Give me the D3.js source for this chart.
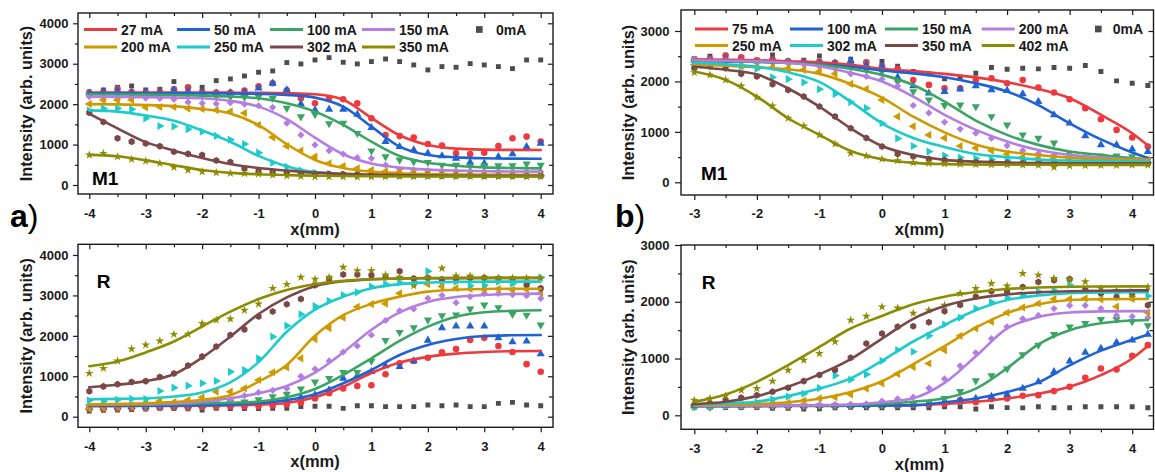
<!DOCTYPE html>
<html><head><meta charset="utf-8">
<script src="https://cdn.jsdelivr.net/npm/d3@7"></script>
<style>
body{margin:0;background:#fff;}
svg{display:block;font-family:"Liberation Sans",Arial,Helvetica,sans-serif;}
</style>
</head><body>
<svg id="c" width="1155" height="472"></svg>
<script>
// ---------------- DATA ----------------
const xA = [-4,-3.75,-3.5,-3.25,-3,-2.75,-2.5,-2.25,-2,-1.75,-1.5,-1.25,-1,-0.75,-0.5,-0.25,0,0.25,0.5,0.75,1,1.25,1.5,1.75,2,2.25,2.5,2.75,3,3.25,3.5,3.75,4];
const xFitA = [-4,-3.5,-3,-2.5,-2,-1.5,-1,-0.5,0,0.5,1,1.5,2,2.5,3,3.5,4];
const xB = [-3,-2.75,-2.5,-2.25,-2,-1.75,-1.5,-1.25,-1,-0.75,-0.5,-0.25,0,0.25,0.5,0.75,1,1.25,1.5,1.75,2,2.25,2.5,2.75,3,3.25,3.5,3.75,4,4.25];
const xFitB = [-3,-2.5,-2,-1.5,-1,-0.5,0,0.5,1,1.5,2,2.5,3,3.5,4,4.25];

const currentsA = ["27 mA","50 mA","100 mA","150 mA","200 mA","250 mA","302 mA","350 mA"];
const currentsB = ["75 mA","100 mA","150 mA","200 mA","250 mA","302 mA","350 mA","402 mA"];
const refLabel = "0mA";

const xTicksA = [-4,-3,-2,-1,0,1,2,3,4];
const xTicksB = [-3,-2,-1,0,1,2,3,4];
const yTicksA = [0,1000,2000,3000,4000];
const yTicksB = [0,1000,2000,3000];

// panel a, M1 - measured points
const aM1_0   = [2300,2351,2417,2450,2351,2368,2558,2417,2417,2582,2624,2698,2789,2822,3028,2995,3094,3151,3036,2995,3053,3118,3053,2970,2847,2929,2912,3003,2970,2929,2879,3094,3094];
const aM1_27  = [2290,2300,2380,2300,2290,2300,2370,2417,2300,2290,2290,2335,2440,2516,2345,2145,2021,2150,2120,2021,1650,1238,1213,1172,1015,974,784,767,800,965,1155,1197,1073];
const aM1_50  = [2270,2310,2340,2290,2300,2280,2350,2330,2290,2270,2280,2300,2393,2516,2351,2005,1856,1873,1873,1749,1419,1073,949,866,784,718,660,561,536,701,767,949,1031];
const aM1_100 = [2230,2250,2240,2230,2245,2220,2230,2210,2200,2190,2180,2170,2180,2145,1900,1690,1745,1520,1534,1280,845,701,619,577,561,495,495,470,478,478,478,520,495];
const aM1_150 = [2186,2110,2120,2150,2150,2140,2120,2050,2021,2010,2037,2000,1960,1922,1530,1238,990,850,767,677,660,495,390,371,355,350,345,340,335,335,330,330,330];
const aM1_200 = [2005,2104,2103,2103,1922,1930,1930,1890,1880,1850,1820,1780,1485,1180,960,850,701,536,470,412,371,340,320,300,290,280,275,270,265,260,255,255,250];
const aM1_250 = [1840,1890,1897,1873,1650,1460,1450,1380,1320,1213,1120,1015,800,550,450,360,300,270,260,245,240,235,232,230,228,226,225,225,225,225,225,225,225];
const aM1_302 = [1790,1560,1155,1073,1025,960,825,770,742,605,570,400,340,320,300,290,280,270,265,260,255,250,245,240,240,235,235,235,230,230,230,230,230];
const aM1_350 = [743,784,701,635,594,536,437,371,330,305,289,285,272,248,231,215,205,205,205,200,205,210,210,210,210,210,210,210,210,210,210,210,210];
// panel a, M1 - fitted curves (read at x = xFitA)
const aM1fit_27  = [2290,2290,2290,2290,2290,2285,2280,2270,2245,2110,1660,1230,990,900,875,868,866];
const aM1fit_50  = [2270,2270,2270,2270,2268,2265,2255,2230,2161,1939,1444,949,742,684,660,653,651];
const aM1fit_100 = [2244,2240,2235,2225,2210,2190,2145,2021,1815,1485,1072,717,552,478,437,420,412];
const aM1fit_150 = [2186,2180,2175,2165,2145,2080,1939,1630,1170,760,530,430,380,355,340,333,330];
const aM1fit_200 = [2000,1995,1980,1950,1880,1770,1480,1010,620,420,330,290,270,260,252,250,248];
const aM1fit_250 = [1845,1815,1720,1590,1350,1070,720,460,320,265,240,228,222,220,220,220,220];
const aM1fit_302 = [1760,1400,1060,850,670,520,420,355,305,275,258,245,235,230,225,225,225];
const aM1fit_350 = [745,710,610,490,370,300,265,245,232,222,215,210,210,210,210,210,210];

// panel a, R - measured points
const aR_0   = [140,160,165,175,190,206,200,195,165,206,200,200,200,206,206,248,260,260,206,272,272,248,248,248,289,270,289,250,250,330,355,289,272];
const aR_27  = [200,190,200,210,215,220,225,230,240,245,250,255,260,280,300,350,450,580,700,760,780,1048,1320,1378,1460,1592,1675,1900,1950,1750,1600,1300,1110];
const aR_50  = [220,230,240,250,255,260,265,270,280,290,300,320,340,360,400,480,540,660,949,1015,1114,1254,1238,1378,1890,2200,2240,2240,2240,1950,1850,1870,1555];
const aR_100 = [250,240,250,255,260,270,280,290,300,320,350,370,420,500,560,690,860,950,1097,1097,1378,1890,2087,2203,2393,2500,2520,2665,2764,2698,2533,2516,2269];
const aR_150 = [260,270,280,290,300,300,310,330,350,380,420,520,600,650,700,1000,1180,1380,1600,1749,2021,2380,2620,2665,2930,3000,2820,2970,3050,3050,3020,2995,2925];
const aR_200 = [200,230,250,260,330,390,360,412,479,619,620,701,908,1100,1220,1445,1920,2190,2450,2720,2785,2795,3054,3300,3277,3218,3180,3160,3150,3160,3140,3150,3060];
const aR_250 = [400,380,420,440,440,635,718,767,825,883,1110,1155,1444,1980,2252,2533,2739,2863,3011,3077,3217,3280,3320,3340,3600,3340,3340,3242,3250,3340,3290,3300,3440];
const aR_302 = [630,750,800,860,880,980,1070,1264,1486,1734,2022,2160,2480,2600,2782,2912,3250,3400,3520,3520,3500,3450,3600,3420,3440,3400,3420,3430,3440,3420,3400,3259,3176];
const aR_350 = [1073,1196,1378,1675,1774,1873,2038,2040,2310,2393,2417,2632,2789,3176,3275,3449,3400,3449,3696,3614,3614,3506,3450,3242,3430,3671,3482,3482,3440,3430,3430,3430,3430];
// panel a, R - fitted curves
const aRfit_27  = [260,262,265,268,272,280,300,340,480,740,1080,1340,1480,1560,1600,1620,1625];
const aRfit_50  = [270,272,275,280,290,305,340,410,554,826,1156,1527,1774,1923,1997,2015,2022];
const aRfit_100 = [290,295,300,310,325,345,375,480,686,1032,1445,1874,2228,2475,2583,2620,2634];
const aRfit_150 = [300,305,310,325,373,455,579,760,1090,1590,2150,2580,2840,2960,3010,3035,3045];
const aRfit_200 = [306,315,330,360,420,530,866,1280,2000,2510,2790,2970,3095,3140,3160,3165,3165];
const aRfit_250 = [430,440,455,500,600,850,1350,2100,2650,2970,3180,3280,3320,3335,3340,3342,3342];
const aRfit_302 = [730,790,880,1050,1460,1980,2540,2950,3230,3350,3400,3420,3425,3428,3430,3430,3430];
const aRfit_350 = [1250,1365,1590,1860,2230,2600,2910,3136,3277,3360,3400,3420,3430,3432,3435,3435,3435];

// panel b, M1 - measured points
const bM1_0   = [2450,2500,2520,2460,2420,2526,2400,2420,2507,2374,2440,2380,2394,2300,2200,2150,2050,2083,2163,2275,2242,2262,2250,2275,2262,2315,2196,2011,1965,1918];
const bM1_75  = [2440,2450,2513,2480,2420,2440,2400,2390,2394,2370,2350,2381,2300,2250,2030,1931,1865,1865,2030,2064,1965,2030,1878,1779,1647,1468,1249,1039,887,709];
const bM1_100 = [2420,2430,2450,2420,2400,2410,2390,2380,2370,2360,2410,2328,2295,2083,1911,1766,1799,1845,1911,1832,1819,1753,1601,1337,1171,920,742,742,656,609];
const bM1_150 = [2400,2420,2410,2400,2390,2380,2370,2350,2350,2290,2280,2230,2196,1990,1800,1634,1525,1534,1501,1303,1138,940,874,780,575,500,520,523,510,457];
const bM1_200 = [2440,2420,2420,2410,2400,2390,2380,2340,2300,2250,2150,2100,2044,1911,1525,1376,1195,1055,973,874,728,629,570,543,510,490,470,460,455,450];
const bM1_250 = [2330,2320,2350,2300,2290,2280,2260,2230,2200,2150,1950,1850,1634,1303,1110,940,880,720,680,629,563,500,480,470,460,455,450,445,440,440];
const bM1_302 = [2380,2400,2380,2300,2250,2083,2044,1980,1845,1750,1590,1469,1171,870,720,610,530,490,470,450,440,430,420,415,410,405,405,400,400,400];
const bM1_350 = [2262,2300,2262,2150,2096,1945,1832,1700,1502,1303,1072,880,709,560,510,460,440,410,395,390,385,380,375,375,372,370,370,370,370,370];
const bM1_402 = [2176,2130,2031,1911,1687,1515,1270,1118,940,762,576,524,460,430,390,380,370,360,355,350,350,345,340,300,330,335,340,340,345,345];
// panel b, M1 - fitted curves (read at x = xFitB)
const bM1fit_75  = [2440,2430,2420,2400,2380,2330,2250,2205,2150,2080,1984,1850,1667,1337,973,730];
const bM1fit_100 = [2400,2395,2390,2370,2340,2290,2216,2160,2083,1964,1800,1530,1170,850,590,480];
const bM1fit_150 = [2410,2400,2390,2370,2330,2250,2130,1930,1601,1224,940,742,609,543,480,460];
const bM1fit_200 = [2420,2410,2400,2370,2300,2170,1998,1700,1337,1039,808,642,543,490,457,450];
const bM1fit_250 = [2330,2310,2280,2240,2150,1950,1680,1300,990,750,610,540,490,460,445,440];
const bM1fit_302 = [2370,2340,2290,2180,1990,1600,1170,880,700,560,500,450,430,420,412,410];
const bM1fit_350 = [2290,2230,2140,1860,1500,1070,720,540,445,410,390,382,378,376,375,375];
const bM1fit_402 = [2196,2031,1700,1270,940,620,457,385,360,352,348,347,346,345,345,345];

// panel b, R - measured points
const bR_0   = [135,135,135,135,135,125,125,110,115,130,140,130,130,132,132,132,150,150,110,150,135,130,150,132,132,150,150,150,150,132];
const bR_75  = [160,155,160,160,165,160,160,165,165,170,170,175,175,180,185,190,200,267,230,285,297,344,355,426,502,661,825,807,1048,1236];
const bR_100 = [165,160,170,165,170,165,170,168,170,170,172,172,175,180,190,200,250,260,297,330,367,473,590,766,954,1107,1177,1283,1324,1424];
const bR_150 = [150,140,160,160,165,165,165,165,165,165,170,175,180,190,200,230,300,420,610,700,820,1071,1236,1424,1559,1620,1690,1690,1650,1580];
const bR_200 = [165,165,168,170,170,172,175,178,180,185,190,200,250,290,320,480,640,870,1100,1350,1560,1700,1760,1880,1935,1935,1880,1760,1740,1720];
const bR_250 = [170,165,180,180,190,200,220,260,297,320,367,470,560,730,850,913,1148,1400,1530,1650,1810,1900,1970,2050,2050,2060,2040,1915,2050,1810];
const bR_302 = [150,160,170,180,230,280,330,380,480,700,630,720,960,1150,1120,1400,1600,1720,1880,1990,2070,2120,2180,2200,2300,2200,2150,2150,2170,2100];
const bR_350 = [180,209,268,310,355,414,485,602,708,796,1013,1265,1442,1560,1570,1640,1835,1945,2087,2187,2180,2260,2350,2380,2400,2206,2150,2080,2150,1940];
const bR_402 = [267,297,344,443,473,602,796,972,1089,1295,1676,1745,1911,1893,1800,1852,1940,2147,2234,2322,2280,2498,2470,2410,2395,2352,2235,2200,2080,2260];
// panel b, R - fitted curves
const bRfit_75  = [160,160,162,163,165,168,172,180,200,240,297,380,502,708,1001,1220];
const bRfit_100 = [165,166,167,168,169,170,172,178,230,297,410,580,880,1140,1330,1420];
const bRfit_150 = [160,162,165,167,170,180,200,240,300,470,830,1250,1500,1620,1670,1680];
const bRfit_200 = [170,171,172,175,180,190,230,300,570,1040,1530,1730,1810,1830,1835,1835];
const bRfit_250 = [180,190,200,230,290,410,600,900,1220,1545,1800,1955,2030,2045,2050,2050];
const bRfit_302 = [190,210,240,340,470,650,960,1300,1590,1850,2030,2110,2150,2165,2170,2170];
const bRfit_350 = [197,238,338,502,720,989,1350,1700,1925,2058,2130,2165,2185,2195,2200,2200];
const bRfit_402 = [238,367,590,884,1207,1529,1750,1955,2090,2170,2225,2250,2265,2270,2272,2272];

// ---------------- STYLE ----------------
const seriesColors = ["#ee3a3e","#1f62d4","#3aa563","#b47ee0","#cf9a00","#1ecbcb","#7a4848","#8c8c00"];
const refColor = "#4d4d4d";
const ink = "#1a1a1a";

const hexagon = {draw(ctx, size){ const r = Math.sqrt(2*size/(3*Math.sqrt(3)));
  for(let i=0;i<6;i++){ const a = Math.PI/3*i + Math.PI/6; const px=r*Math.cos(a), py=r*Math.sin(a); if(i===0) ctx.moveTo(px,py); else ctx.lineTo(px,py);} ctx.closePath(); }};
const markerDefs = [
  {type:d3.symbolCircle, size:34, rot:0},
  {type:d3.symbolTriangle, size:29, rot:0},
  {type:d3.symbolTriangle, size:29, rot:180},
  {type:d3.symbolSquare, size:26, rot:45},
  {type:d3.symbolTriangle, size:29, rot:-90},
  {type:d3.symbolTriangle, size:29, rot:90},
  {type:hexagon, size:32, rot:0},
  {type:d3.symbolStar, size:24, rot:0}
];

const svg = d3.select("#c");

const panels = [
  {frame:[78,13,553,194], xd:[-4,4], xr:[89.3,540.7], yd:[0,4000], yr:[185,23.3], xt:xTicksA, yt:yTicksA,
   xs:xA, xf:xFitA, ref:aM1_0, pts:[aM1_27,aM1_50,aM1_100,aM1_150,aM1_200,aM1_250,aM1_302,aM1_350],
   fits:[aM1fit_27,aM1fit_50,aM1fit_100,aM1fit_150,aM1fit_200,aM1fit_250,aM1fit_302,aM1fit_350],
   tag:"M1", tagX:92, tagY:184.5, ytX:26, xlX:315, xlY:229.5, ylTick:5, ylPad:4.5, xPad:9.4,
   legend:{labels:currentsA, lx:[84,177,270,362], ry:[29.5,47], sqX:479.3, sqT:496}},
  {frame:[78,244.3,553,427.3], xd:[-4,4], xr:[89.3,540.7], yd:[0,4000], yr:[416.7,255], xt:xTicksA, yt:yTicksA,
   xs:xA, xf:xFitA, ref:aR_0, pts:[aR_27,aR_50,aR_100,aR_150,aR_200,aR_250,aR_302,aR_350],
   fits:[aRfit_27,aRfit_50,aRfit_100,aRfit_150,aRfit_200,aRfit_250,aRfit_302,aRfit_350],
   tag:"R", tagX:96.7, tagY:288.3, ytX:26, xlX:315, xlY:461.5, ylTick:5, ylPad:4.5, xPad:9.8},
  {frame:[681,10,1153.5,195], xd:[-3,4], xr:[694.3,1132.2], yd:[0,3000], yr:[182.3,31], xt:xTicksB, yt:yTicksB,
   xs:xB, xf:xFitB, ref:bM1_0, pts:[bM1_75,bM1_100,bM1_150,bM1_200,bM1_250,bM1_302,bM1_350,bM1_402],
   fits:[bM1fit_75,bM1fit_100,bM1fit_150,bM1fit_200,bM1fit_250,bM1fit_302,bM1fit_350,bM1fit_402],
   tag:"M1", tagX:701, tagY:179.5, ytX:628.5, xlX:919.5, xlY:229.5, ylTick:6, ylPad:5.5, xPad:8.6,
   legend:{labels:currentsB, lx:[695,790,885,981.7], ry:[29,45.5], sqX:1098.3, sqT:1112.7}},
  {frame:[681,245,1153.5,429.3], xd:[-3,4], xr:[694.3,1132.2], yd:[0,3000], yr:[415.3,245], xt:xTicksB, yt:yTicksB,
   xs:xB, xf:xFitB, ref:bR_0, pts:[bR_75,bR_100,bR_150,bR_200,bR_250,bR_302,bR_350,bR_402],
   fits:[bRfit_75,bRfit_100,bRfit_150,bRfit_200,bRfit_250,bRfit_302,bRfit_350,bRfit_402],
   tag:"R", tagX:701.7, tagY:289, ytX:628.5, xlX:919.5, xlY:464, ylTick:6, ylPad:5.5, xPad:9.2}
];

function styleAxis(g, fs){
  g.select(".domain").remove();
  g.selectAll(".tick line").attr("stroke", ink).attr("stroke-width",1.2);
  g.selectAll(".tick text").attr("fill", ink).attr("font-size", fs).attr("font-weight","bold")
    .attr("font-family",'"Liberation Sans",Arial,sans-serif');
}

panels.forEach((p,pi)=>{
  const [x0,y0,x1,y1] = p.frame;
  const x = d3.scaleLinear().domain(p.xd).range(p.xr);
  const y = d3.scaleLinear().domain(p.yd).range(p.yr);
  const g = svg.append("g");
  const clipId = "clip"+pi;
  g.append("clipPath").attr("id",clipId).append("rect").attr("x",x0).attr("y",y0).attr("width",x1-x0).attr("height",y1-y0);

  const xMinor = [];
  for(let i=0;i<p.xt.length-1;i++) xMinor.push((p.xt[i]+p.xt[i+1])/2);
  const yMinor = [];
  for(let i=0;i<p.yt.length-1;i++) yMinor.push((p.yt[i]+p.yt[i+1])/2);

  g.append("g").attr("transform",`translate(0,${y1})`)
    .call(d3.axisBottom(x).tickValues(p.xt).tickSize(5).tickPadding(p.xPad).tickFormat(d=>String(d)))
    .call(a=>styleAxis(a,"13px"));
  g.append("g").attr("transform",`translate(0,${y1})`)
    .call(d3.axisBottom(x).tickValues(xMinor).tickSize(3).tickFormat(""))
    .call(a=>styleAxis(a,"12px"));
  g.append("g").attr("transform",`translate(0,${y0})`)
    .call(d3.axisTop(x).tickValues(p.xt).tickSize(-5).tickFormat(""))
    .call(a=>styleAxis(a,"12px"));
  g.append("g").attr("transform",`translate(0,${y0})`)
    .call(d3.axisTop(x).tickValues(xMinor).tickSize(-3).tickFormat(""))
    .call(a=>styleAxis(a,"12px"));
  g.append("g").attr("transform",`translate(${x0},0)`)
    .call(d3.axisLeft(y).tickValues(p.yt).tickSize(p.ylTick).tickPadding(p.ylPad).tickFormat(d=>String(d)))
    .call(a=>styleAxis(a,"13px"));
  g.append("g").attr("transform",`translate(${x0},0)`)
    .call(d3.axisLeft(y).tickValues(yMinor).tickSize(3).tickFormat(""))
    .call(a=>styleAxis(a,"12px"));
  g.append("g").attr("transform",`translate(${x1},0)`)
    .call(d3.axisRight(y).tickValues(p.yt).tickSize(-5).tickFormat(""))
    .call(a=>styleAxis(a,"12px"));
  g.append("g").attr("transform",`translate(${x1},0)`)
    .call(d3.axisRight(y).tickValues(yMinor).tickSize(-4).tickFormat(""))
    .call(a=>styleAxis(a,"12px"));

  const plot = g.append("g").attr("clip-path",`url(#${clipId})`);
  plot.append("g").selectAll("path").data(p.xs.map((xv,i)=>[xv,p.ref[i]])).join("path")
    .attr("d", d3.symbol(d3.symbolSquare, 24)())
    .attr("transform", d=>`translate(${x(d[0])},${y(d[1])})`)
    .attr("fill", refColor);
  p.pts.forEach((arr,si)=>{
    const m = markerDefs[si];
    plot.append("g").selectAll("path").data(p.xs.map((xv,i)=>[xv,arr[i]])).join("path")
      .attr("d", d3.symbol(m.type, m.size)())
      .attr("transform", d=>`translate(${x(d[0])},${y(d[1])}) rotate(${m.rot})`)
      .attr("fill", seriesColors[si]);
  });
  const line = d3.line().x(d=>x(d[0])).y(d=>y(d[1])).curve(d3.curveMonotoneX);
  p.fits.forEach((arr,si)=>{
    plot.append("path").datum(p.xf.map((xv,i)=>[xv,arr[i]]))
      .attr("d", line).attr("fill","none")
      .attr("stroke", seriesColors[si]).attr("stroke-width",2.6)
      .attr("stroke-linejoin","round").attr("stroke-linecap","round");
  });

  g.append("rect").attr("x",x0).attr("y",y0).attr("width",x1-x0).attr("height",y1-y0)
    .attr("fill","none").attr("stroke",ink).attr("stroke-width",1.4);

  g.append("text").attr("x",p.tagX).attr("y",p.tagY).text(p.tag)
    .attr("font-size","19px").attr("font-weight","bold").attr("fill","#000");
  g.append("text").attr("transform",`translate(${p.ytX},${(y0+y1)/2}) rotate(-90)`)
    .attr("text-anchor","middle").attr("dy","0.35em")
    .attr("font-size","16.3px").attr("font-weight","bold").attr("fill",ink)
    .text("Intensity (arb. units)");
  g.append("text").attr("x",p.xlX).attr("y",p.xlY).attr("text-anchor","middle").attr("dy","0.35em")
    .attr("font-size","16.5px").attr("font-weight","bold").attr("fill",ink).text("x(mm)");

  if(p.legend){
    const L = p.legend;
    L.labels.forEach((lab,i)=>{
      const row = Math.floor(i/4), col = i%4;
      const lx = L.lx[col], ly = L.ry[row];
      g.append("line").attr("x1",lx).attr("x2",lx+33).attr("y1",ly).attr("y2",ly)
        .attr("stroke",seriesColors[i]).attr("stroke-width",3);
      g.append("text").attr("x",lx+37).attr("y",ly).attr("dy","0.36em")
        .attr("font-size","14px").attr("font-weight","bold").attr("fill",ink).text(lab);
    });
    g.append("path").attr("d", d3.symbol(d3.symbolSquare, 45)())
      .attr("transform",`translate(${L.sqX},${L.ry[0]})`).attr("fill",refColor);
    g.append("text").attr("x",L.sqT).attr("y",L.ry[0]).attr("dy","0.36em")
      .attr("font-size","14px").attr("font-weight","bold").attr("fill",ink).text(refLabel);
  }
});

const letters = [{t:"a", x:10, y:227},{t:"b", x:615, y:227}];
letters.forEach(l=>{
  const t = svg.append("text").attr("x",l.x).attr("y",l.y).attr("font-size","32px").attr("fill","#000");
  t.append("tspan").attr("font-weight","bold").text(l.t);
  t.append("tspan").attr("font-weight","normal").text(")");
});
</script>
</body></html>
